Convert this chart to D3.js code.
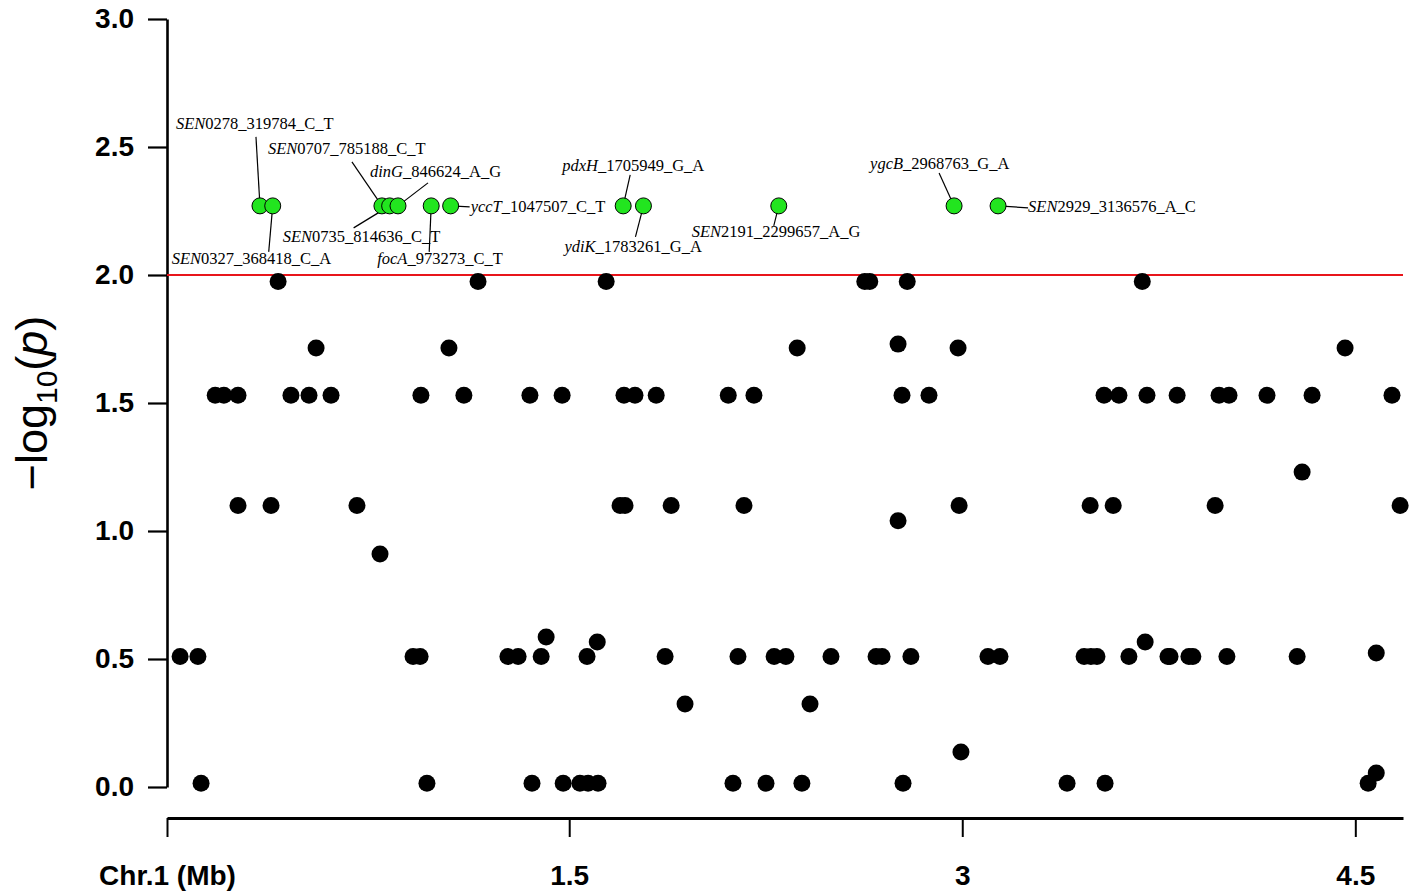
<!DOCTYPE html>
<html>
<head>
<meta charset="utf-8">
<script src="https://cdn.jsdelivr.net/npm/d3@7"></script>
<style>
  body { margin: 0; background: #fff; }
  svg { display: block; }
</style>
</head>
<body>
<script>
// values
const yTicks = [0, 0.5, 1, 1.5, 2, 2.5, 3];
const xStart = -0.035, xEnd = 4.682;          // Mb, ends of the drawn x axis
const xTickValues = [xStart, 1.5, 3, 4.5];
const xTickLabels = ["Chr.1 (Mb)", "1.5", "3", "4.5"];
const threshold = 2;

// non-significant SNPs, grouped by their -log10(p) level; positions in Mb
const snpRows = [
  {p: 1.975, mb: [0.389, 1.152, 1.641, 2.628, 2.647, 2.790, 3.687]},
  {p: 1.715, mb: [0.534, 1.041, 2.370, 2.984, 4.461]},
  {p: 1.73,  mb: [2.755]},
  {p: 1.53,  mb: [0.149, 0.182, 0.236, 0.438, 0.507, 0.591, 0.934, 1.098, 1.350, 1.473, 1.709, 1.751, 1.832,
                  2.107, 2.205, 2.770, 2.873, 3.541, 3.598, 3.705, 3.820, 3.980, 4.018, 4.163, 4.335, 4.640]},
  {p: 1.10,  mb: [0.236, 0.362, 0.690, 1.694, 1.713, 1.889, 2.167, 2.988, 3.488, 3.576, 3.965, 4.671]},
  {p: 1.04,  mb: [2.755]},
  {p: 1.23,  mb: [4.297]},
  {p: 0.91,  mb: [0.778]},
  {p: 0.586, mb: [1.412]},
  {p: 0.566, mb: [1.607, 3.698]},
  {p: 0.51,  mb: [0.015, 0.083, 0.904, 0.931, 1.266, 1.305, 1.393, 1.568, 1.866, 2.144, 2.282, 2.327, 2.499,
                  2.671, 2.694, 2.804, 3.098, 3.144, 3.465, 3.491, 3.514, 3.636, 3.785, 3.793, 3.865, 3.880,
                  4.010, 4.278]},
  {p: 0.523, mb: [4.580]},
  {p: 0.324, mb: [1.942, 2.419]},
  {p: 0.137, mb: [2.995]},
  {p: 0.015, mb: [0.095, 0.957, 1.358, 1.477, 1.541, 1.572, 1.610, 2.125, 2.251, 2.388, 2.774, 3.400, 3.545, 4.549]},
  {p: 0.055, mb: [4.580]}
];

// significant SNPs (all at the same level)
const sigLevel = 2.27;
const sigGene = ["SEN", "SEN", "SEN", "SEN", "dinG", "focA", "yccT", "pdxH", "ydiK", "SEN", "ygcB", "SEN"];
const sigRest = ["0278_319784_C_T", "0327_368418_C_A", "0707_785188_C_T", "0735_814636_C_T", "_846624_A_G",
                 "_973273_C_T", "_1047507_C_T", "_1705949_G_A", "_1783261_G_A", "2191_2299657_A_G",
                 "_2968763_G_A", "2929_3136576_A_C"];
const sigBp = [319784, 368418, 785188, 814636, 846624, 973273, 1047507, 1705949, 1783261, 2299657, 2968763, 3136576];

// label placement relative to the dot: text start (tx,ty) and leader start (lx,ly)
const labelLayout = [
  {tx: -84, ty: -77, lx: -4, ly: -69},
  {tx: -101, ty: 58, lx: -4, ly: 46},
  {tx: -114, ty: -52, lx: -30, ly: -44},
  {tx: -107, ty: 36, lx: -36, ly: 22},
  {tx: -28, ty: -29, lx: 30, ly: -23},
  {tx: -54, ty: 58, lx: -2, ly: 46},
  {tx: 20, ty: 6, lx: 19, ly: 1},
  {tx: -61, ty: -35, lx: 7, ly: -31},
  {tx: -79, ty: 46, lx: -8, ly: 31},
  {tx: -87, ty: 31, lx: -5, ly: 20},
  {tx: -84, ty: -37, lx: -15, ly: -33},
  {tx: 30, ty: 6, lx: 30, ly: 2}
];

const W = 1418, H = 896;
const svg = d3.select("body").append("svg").attr("width", W).attr("height", H);

const x = d3.scaleLinear().domain([xStart, xEnd]).range([167, 1403]);
const y = d3.scaleLinear().domain([0, 3]).range([787, 19]);

// y axis
const yAxis = svg.append("g")
  .attr("transform", "translate(167,0)")
  .call(d3.axisLeft(y).tickValues(yTicks).tickFormat(d3.format(".1f")).tickSize(19).tickSizeOuter(0).tickPadding(14));
yAxis.select(".domain").attr("stroke", "#000").attr("stroke-width", 2.6);
yAxis.selectAll(".tick line").attr("stroke", "#000").attr("stroke-width", 2.2);
yAxis.selectAll(".tick text")
  .attr("fill", "#000")
  .style("font-family", "'Liberation Sans', Arial, sans-serif")
  .style("font-weight", "bold")
  .style("font-size", "28px");

// x axis
const xAxis = svg.append("g")
  .attr("transform", "translate(0,818)")
  .call(d3.axisBottom(x).tickValues(xTickValues).tickFormat((d, i) => xTickLabels[i]).tickSize(19).tickSizeOuter(0).tickPadding(28));
xAxis.select(".domain").attr("stroke", "#000").attr("stroke-width", 3);
xAxis.selectAll(".tick line").attr("stroke", "#000").attr("stroke-width", 2);
xAxis.selectAll(".tick text")
  .attr("fill", "#000")
  .style("font-family", "'Liberation Sans', Arial, sans-serif")
  .style("font-weight", "bold")
  .style("font-size", "28px");

// y title
const yt = svg.append("text")
  .attr("transform", "translate(47,403) rotate(-90)")
  .attr("text-anchor", "middle")
  .style("font-family", "'Liberation Sans', Arial, sans-serif")
  .style("font-size", "45px")
  .attr("fill", "#000");
yt.append("tspan").text("\u2212log");
yt.append("tspan").attr("dy", 10).style("font-size", "30px").text("10");
yt.append("tspan").attr("dy", -10).text("(");
yt.append("tspan").style("font-style", "italic").text("p");
yt.append("tspan").text(")");

// threshold line
svg.append("line")
  .attr("x1", x(xStart)).attr("x2", x(xEnd))
  .attr("y1", y(threshold)).attr("y2", y(threshold))
  .attr("stroke", "#e8151b").attr("stroke-width", 2);

// black dots
const snps = snpRows.flatMap(r => r.mb.map(m => ({mb: m, p: r.p})));
svg.append("g").selectAll("circle").data(snps).join("circle")
  .attr("cx", d => x(d.mb))
  .attr("cy", d => y(d.p))
  .attr("r", 8.5)
  .attr("fill", "#000");

// significant SNPs: leaders, dots, labels
const sig = sigBp.map((bp, i) => ({mb: bp / 1e6, gene: sigGene[i], rest: sigRest[i], L: labelLayout[i]}));

svg.append("g").selectAll("line").data(sig).join("line")
  .attr("x1", d => x(d.mb) + d.L.lx)
  .attr("y1", d => y(sigLevel) + d.L.ly)
  .attr("x2", d => x(d.mb))
  .attr("y2", d => y(sigLevel))
  .attr("stroke", "#000").attr("stroke-width", 1.2);

svg.append("g").selectAll("circle").data(sig).join("circle")
  .attr("cx", d => x(d.mb))
  .attr("cy", y(sigLevel))
  .attr("r", 8)
  .attr("fill", "#22e51f")
  .attr("stroke", "#000").attr("stroke-width", 1);

const lab = svg.append("g").selectAll("text").data(sig).join("text")
  .attr("x", d => x(d.mb) + d.L.tx)
  .attr("y", d => y(sigLevel) + d.L.ty)
  .style("font-family", "'Liberation Serif', 'Times New Roman', serif")
  .style("font-size", "16.5px")
  .attr("fill", "#000");
lab.append("tspan").style("font-style", "italic").text(d => d.gene);
lab.append("tspan").text(d => d.rest);
</script>
</body>
</html>
